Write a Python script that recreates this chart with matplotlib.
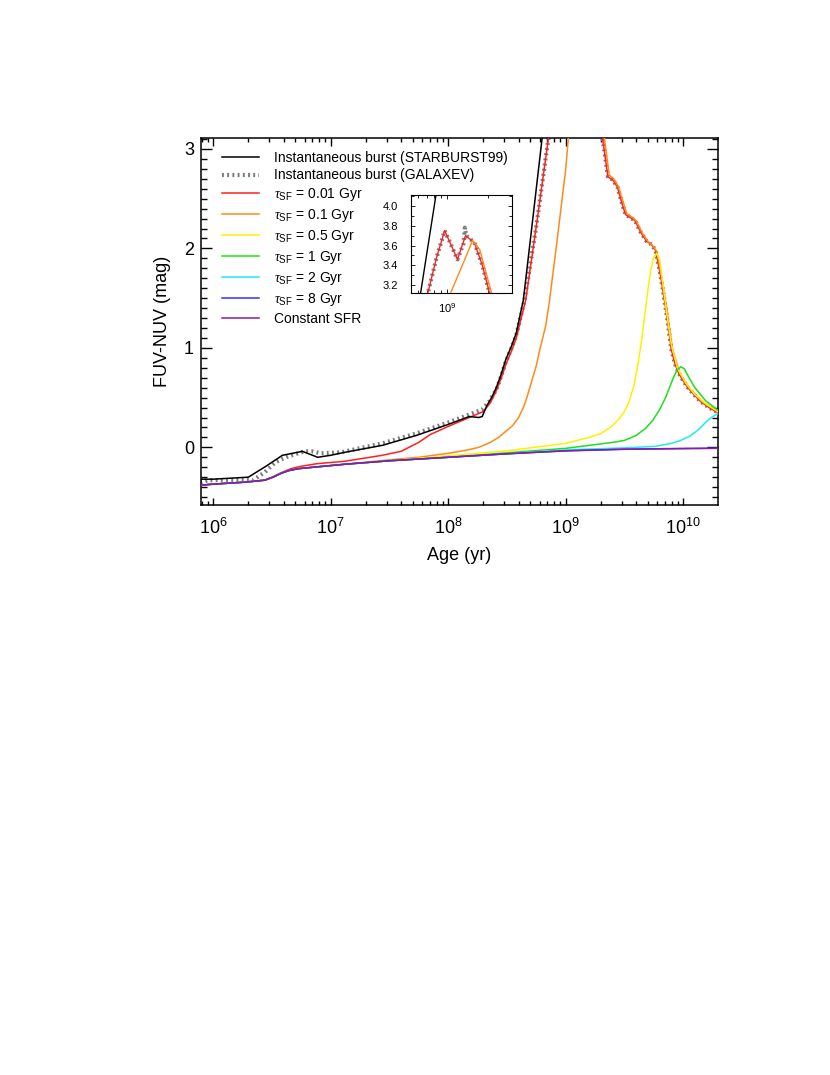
import numpy as np
import matplotlib
matplotlib.use("Agg")
import matplotlib.pyplot as plt
from matplotlib.ticker import FixedLocator, MultipleLocator, LogLocator, NullFormatter, FormatStrFormatter

plt.rcParams['font.family'] = ['Liberation Sans', 'DejaVu Sans']
plt.rcParams['mathtext.fontset'] = 'custom'
plt.rcParams['mathtext.rm'] = 'Liberation Sans'
plt.rcParams['mathtext.it'] = 'Liberation Serif:italic'

# log(age/yr) and FUV-NUV colour for each model
sb99_logt = [5.85, 6.0, 6.30, 6.45, 6.59, 6.76, 6.89, 7.0, 7.12, 7.44, 7.73, 8.0, 8.18, 8.26,
             8.29, 8.33, 8.37, 8.41, 8.45, 8.49, 8.54, 8.58, 8.64, 8.71, 8.80, 8.92]
sb99_mag = [-0.32, -0.32, -0.30, -0.19, -0.08, -0.04, -0.10, -0.08, -0.05, 0.02, 0.12, 0.23, 0.31, 0.30,
            0.31, 0.42, 0.50, 0.60, 0.73, 0.88, 1.02, 1.15, 1.48, 2.19, 3.11, 4.15]

galaxev_logt = [5.85, 5.96, 6.34, 6.44, 6.53, 6.64, 6.78, 6.84, 6.92, 7.09, 7.44, 7.73, 8.0, 8.18,
                8.29, 8.35, 8.41, 8.45, 8.49, 8.54, 8.58, 8.65, 8.75, 8.855, 8.92, 8.98, 9.075, 9.12, 9.13, 9.14,
                9.20, 9.26, 9.313, 9.36, 9.40, 9.44, 9.48, 9.51, 9.55, 9.59, 9.64, 9.69, 9.73,
                9.765, 9.80, 9.825, 9.85, 9.875, 9.90, 9.93, 9.96, 10.0, 10.04, 10.1, 10.15,
                10.22, 10.31]
galaxev_mag = [-0.37, -0.33, -0.33, -0.25, -0.15, -0.09, -0.04, -0.04, -0.06, -0.05, 0.04, 0.14, 0.25, 0.33,
               0.38, 0.46, 0.58, 0.71, 0.86, 1.00, 1.13, 1.48, 2.22, 3.12, 3.48, 3.75, 3.46, 3.62, 3.78, 3.70,
               3.63, 3.40, 3.12, 2.72, 2.69, 2.62, 2.45, 2.34, 2.31, 2.28, 2.16, 2.07, 2.04,
               1.98, 1.78, 1.60, 1.41, 1.20, 0.98, 0.84, 0.75, 0.67, 0.60, 0.52, 0.46,
               0.40, 0.34]

tau001_logt = [5.85, 6.0, 6.27, 6.44, 6.51, 6.58, 6.66, 6.75, 6.88, 7.12, 7.44, 7.6, 7.75, 7.85,
               8.0, 8.1, 8.2, 8.3, 8.36, 8.41, 8.45, 8.49, 8.54, 8.58, 8.66, 8.75, 8.855, 8.92, 8.98, 9.075, 9.135,
               9.20, 9.26, 9.313, 9.36, 9.40, 9.44, 9.48, 9.51, 9.55, 9.59, 9.64, 9.69, 9.73,
               9.765, 9.80, 9.825, 9.85, 9.875, 9.90, 9.93, 9.96, 10.0, 10.04, 10.1, 10.15,
               10.22, 10.31]
tau001_mag = [-0.385, -0.37, -0.35, -0.33, -0.295, -0.255, -0.215, -0.19, -0.165, -0.14, -0.08, -0.04, 0.05, 0.13,
              0.21, 0.26, 0.31, 0.36, 0.45, 0.57, 0.69, 0.83, 0.97, 1.10, 1.48, 2.22, 3.12, 3.48, 3.75, 3.46, 3.70,
              3.63, 3.40, 3.12, 2.72, 2.69, 2.62, 2.45, 2.34, 2.31, 2.28, 2.16, 2.07, 2.04,
              1.98, 1.78, 1.60, 1.41, 1.20, 0.98, 0.84, 0.75, 0.67, 0.60, 0.52, 0.46,
              0.40, 0.34]

tau01_logt = [5.85, 6.0, 6.27, 6.44, 6.51, 6.58, 6.64, 6.72, 6.85, 7.12, 7.5, 7.75, 8.0, 8.15, 8.26,
              8.36, 8.43, 8.5, 8.55, 8.6, 8.64, 8.67, 8.71, 8.75, 8.78, 8.83, 8.86, 8.92, 9.0, 9.024,
              9.108, 9.187, 9.24, 9.33, 9.37, 9.41, 9.45, 9.52, 9.56, 9.60, 9.65, 9.70, 9.74, 9.775, 9.81,
              9.86, 9.91, 9.97, 10.05, 10.16, 10.31]
tau01_mag = [-0.385, -0.37, -0.35, -0.33, -0.30, -0.26, -0.235, -0.215, -0.20, -0.17, -0.125, -0.10, -0.06, -0.03, 0.0,
             0.05, 0.10, 0.17, 0.22, 0.30, 0.40, 0.50, 0.66, 0.82, 0.98, 1.22, 1.45, 2.01, 2.79, 3.12,
             3.39, 3.65, 3.56, 3.11, 2.74, 2.70, 2.62, 2.35, 2.32, 2.28, 2.16, 2.07, 2.03, 1.97, 1.76,
             1.40, 0.98, 0.75, 0.60, 0.46, 0.35]

tau05_logt = [5.85, 6.0, 6.27, 6.44, 6.51, 6.58, 6.64, 6.72, 6.85, 7.12, 7.5, 8.0, 8.5, 9.0,
              9.2, 9.3, 9.38, 9.45, 9.5, 9.54, 9.58, 9.61, 9.64, 9.67, 9.70, 9.72, 9.745, 9.775,
              9.80, 9.83, 9.86, 9.90, 9.95, 10.02, 10.10, 10.2, 10.31]
tau05_mag = [-0.385, -0.37, -0.35, -0.33, -0.30, -0.26, -0.235, -0.215, -0.20, -0.17, -0.135, -0.085, -0.035, 0.04,
             0.10, 0.14, 0.20, 0.28, 0.36, 0.46, 0.62, 0.80, 1.02, 1.30, 1.58, 1.75, 1.90, 1.95,
             1.88, 1.62, 1.35, 1.03, 0.80, 0.65, 0.53, 0.43, 0.35]

tau1_logt = [5.85, 6.0, 6.27, 6.44, 6.51, 6.58, 6.64, 6.72, 6.85, 7.12, 7.5, 8.0, 8.5, 9.0,
             9.2, 9.4, 9.5, 9.6, 9.68, 9.74, 9.8, 9.85, 9.89, 9.92, 9.95, 9.98, 10.01,
             10.05, 10.10, 10.19, 10.31]
tau1_mag = [-0.385, -0.37, -0.35, -0.33, -0.30, -0.26, -0.235, -0.215, -0.20, -0.17, -0.135, -0.10, -0.055, -0.01,
            0.02, 0.05, 0.07, 0.12, 0.19, 0.27, 0.38, 0.50, 0.62, 0.71, 0.78, 0.81, 0.79,
            0.70, 0.60, 0.47, 0.36]

tau2_logt = [5.85, 6.0, 6.27, 6.44, 6.51, 6.58, 6.64, 6.72, 6.85, 7.12, 7.5, 8.0, 8.5, 9.0,
             9.5, 9.76, 9.9, 9.98, 10.05, 10.10, 10.15, 10.19, 10.24, 10.28, 10.31]
tau2_mag = [-0.385, -0.37, -0.35, -0.33, -0.30, -0.26, -0.235, -0.215, -0.20, -0.17, -0.135, -0.10, -0.065, -0.025,
            -0.005, 0.01, 0.04, 0.07, 0.11, 0.15, 0.20, 0.25, 0.30, 0.33, 0.34]

tau8_logt = [5.85, 6.0, 6.27, 6.44, 6.51, 6.58, 6.64, 6.72, 6.85, 7.12, 7.5, 8.0, 8.5, 9.0,
             9.5, 10.0, 10.31]
tau8_mag = [-0.385, -0.37, -0.35, -0.33, -0.30, -0.26, -0.235, -0.215, -0.20, -0.17, -0.135, -0.10, -0.065, -0.035,
            -0.018, -0.011, -0.008]

const_logt = [5.85, 6.0, 6.27, 6.44, 6.51, 6.58, 6.64, 6.72, 6.85, 7.12, 7.5, 8.0, 8.5, 9.0,
              9.5, 10.0, 10.31]
const_mag = [-0.385, -0.37, -0.35, -0.33, -0.30, -0.26, -0.235, -0.215, -0.20, -0.17, -0.135, -0.10, -0.065, -0.035,
             -0.02, -0.013, -0.01]

labels = ["Instantaneous burst (STARBURST99)", "Instantaneous burst (GALAXEV)",
          r"$\tau_{\rm SF}$ = 0.01 Gyr", r"$\tau_{\rm SF}$ = 0.1 Gyr", r"$\tau_{\rm SF}$ = 0.5 Gyr",
          r"$\tau_{\rm SF}$ = 1 Gyr", r"$\tau_{\rm SF}$ = 2 Gyr", r"$\tau_{\rm SF}$ = 8 Gyr",
          "Constant SFR"]
colors = ["black", "#7a7a7a", "#ff2020", "#ff8a1a", "#fff000", "#1ede1e", "#20eaf0", "#3030ff", "#8e1c9e"]

series = [(sb99_logt, sb99_mag), (galaxev_logt, galaxev_mag), (tau001_logt, tau001_mag),
          (tau01_logt, tau01_mag), (tau05_logt, tau05_mag), (tau1_logt, tau1_mag),
          (tau2_logt, tau2_mag), (tau8_logt, tau8_mag), (const_logt, const_mag)]


def draw_curves(ax, lw=1.1):
    handles = []
    for i, ((lt, mag), lab, col) in enumerate(zip(series, labels, colors)):
        age = 10.0 ** np.array(lt)
        if i == 1:
            h, = ax.plot(age, mag, color=col, lw=3.0, linestyle=(0, (0.45, 0.8)),
                         dash_capstyle='butt', label=lab, zorder=2)
        else:
            h, = ax.plot(age, mag, color=col, lw=lw, label=lab, zorder=3 if i != 0 else 4)
        handles.append(h)
    return handles


fig = plt.figure(figsize=(8.3, 10.75), dpi=100)
ax = fig.add_axes([0.2422, 0.5302, 0.6229, 0.3414])
handles = draw_curves(ax)

ax.set_xscale('log')
ax.set_xlim(7.9e5, 1.98e10)
ax.set_ylim(-0.58, 3.11)
ax.xaxis.set_major_locator(LogLocator(base=10, numticks=10))
ax.xaxis.set_minor_locator(LogLocator(base=10, subs=np.arange(2, 10), numticks=20))
ax.xaxis.set_minor_formatter(NullFormatter())
ax.yaxis.set_major_locator(FixedLocator([0, 1, 2, 3]))
ax.yaxis.set_minor_locator(MultipleLocator(0.1))
ax.tick_params(which='both', direction='in', top=True, right=True, labelsize=13, width=1.0)
ax.tick_params(axis='x', which='major', length=5.4, pad=9)
ax.tick_params(axis='x', which='minor', length=2.8)
ax.tick_params(axis='y', which='major', length=7.7, pad=5)
ax.tick_params(axis='y', which='minor', length=4.0)
for s in ax.spines.values():
    s.set_linewidth(1.1)

ax.set_xlabel("Age (yr)", fontsize=13)
ax.set_ylabel("FUV-NUV (mag)", fontsize=13)
ax.xaxis.set_label_coords(0.5, -0.115)
ax.yaxis.set_label_coords(-0.058, 0.5)

ax.legend(handles=handles, loc='upper left', bbox_to_anchor=(0.041, 0.966), frameon=False,
          fontsize=10, handlelength=2.65, handletextpad=1.1, labelspacing=0.28,
          borderaxespad=0, borderpad=0)

# inset zoom on the peak
axin = fig.add_axes([0.4952, 0.7274, 0.1217, 0.0912])
draw_curves(axin, lw=1.0)
axin.set_xscale('log')
axin.set_xlim(10 ** 8.73, 10 ** 9.48)
axin.set_ylim(3.12, 4.11)
axin.xaxis.set_major_locator(FixedLocator([1e9]))
axin.xaxis.set_minor_locator(LogLocator(base=10, subs=np.arange(2, 10), numticks=20))
axin.xaxis.set_minor_formatter(NullFormatter())
axin.yaxis.set_major_locator(MultipleLocator(0.2))
axin.yaxis.set_minor_locator(MultipleLocator(0.1))
axin.yaxis.set_major_formatter(FormatStrFormatter('%.1f'))
axin.tick_params(which='both', direction='in', top=True, right=True, labelsize=8, width=0.6)
axin.tick_params(which='major', length=3)
axin.tick_params(axis='y', which='major', pad=9.5)
axin.tick_params(axis='x', which='major', pad=6)
axin.tick_params(which='minor', length=2)
for s in axin.spines.values():
    s.set_linewidth(0.8)

fig.savefig("out.png", dpi=100)
